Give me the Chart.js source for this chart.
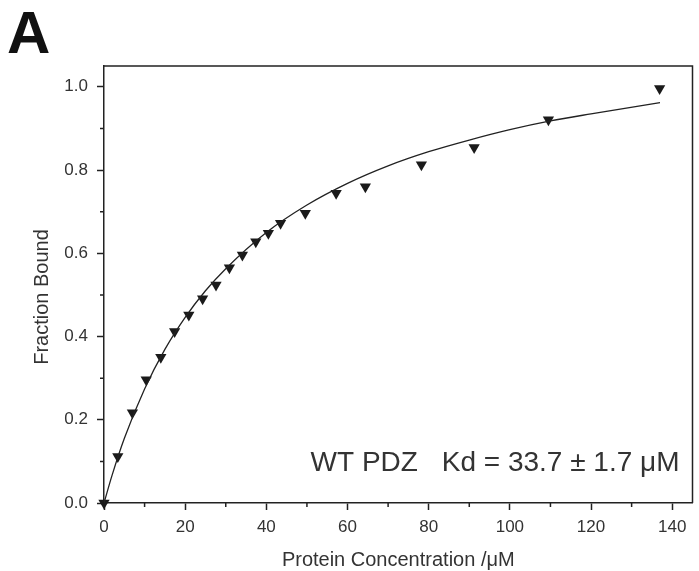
<!DOCTYPE html>
<html>
<head>
<meta charset="utf-8">
<title>WT PDZ binding</title>
<script src="https://cdn.jsdelivr.net/npm/chart.js@4/dist/chart.umd.min.js"></script>
<style>
  html, body { margin: 0; padding: 0; background: #fff; }
  #wrap { width: 699px; height: 571px; }
</style>
</head>
<body>
<div id="wrap"><canvas id="bindingChart" width="699" height="571"></canvas></div>
<script>
// measured points (protein concentration in uM, fraction bound)
var concentration = [0, 3.4, 7.0, 10.4, 14.0, 17.4, 20.9, 24.3, 27.6, 30.9, 34.1, 37.4, 40.5, 43.5, 49.6, 57.2, 64.4, 78.2, 91.2, 109.5, 136.9];
var fractionBound = [0, 0.112, 0.217, 0.296, 0.350, 0.412, 0.452, 0.491, 0.524, 0.565, 0.596, 0.628, 0.648, 0.672, 0.696, 0.744, 0.760, 0.813, 0.854, 0.921, 0.996];

// fitted curve
var fitConcentration = [0, 2, 5, 10, 15, 20, 25, 30, 40, 50, 60, 70, 80, 90, 100, 110, 120, 137];
var fitFraction = [0, 0.067, 0.155, 0.274, 0.369, 0.446, 0.510, 0.563, 0.650, 0.716, 0.768, 0.810, 0.844, 0.872, 0.897, 0.918, 0.935, 0.962];

var xTickValues = [0, 20, 40, 60, 80, 100, 120, 140];
var xMinorTicks = [10, 30, 50, 70, 90, 110, 130];
var yTickValues = [0, 0.2, 0.4, 0.6, 0.8, 1.0];
var yMinorTicks = [0.1, 0.3, 0.5, 0.7, 0.9];

var labelName = 'WT PDZ';
var labelKd = 'Kd = 33.7 \u00b1 1.7 \u03bcM';

var ink = '#222';
var textInk = '#333';
var sans = "'Liberation Sans', Arial, sans-serif";

var bindingChart = function(){

	var toPoints = function(xs, ys){
		return xs.map(function(x, i){ return {x: x, y: ys[i]}; });
	};

	// frame box, minor ticks, annotation and panel letter
	var extras = {
		id: 'extras',
		afterDraw: function(chart){
			var ctx = chart.ctx;
			var area = chart.chartArea;
			var xs = chart.scales.x;
			var ys = chart.scales.y;
			ctx.save();
			ctx.strokeStyle = ink;
			ctx.lineWidth = 1.5;
			ctx.beginPath();
			ctx.moveTo(area.left, area.top);
			ctx.lineTo(area.right, area.top);
			ctx.lineTo(area.right, area.bottom);
			ctx.stroke();

			ctx.beginPath();
			xMinorTicks.forEach(function(v){
				var px = xs.getPixelForValue(v);
				ctx.moveTo(px, area.bottom);
				ctx.lineTo(px, area.bottom + 4);
			});
			yMinorTicks.forEach(function(v){
				var py = ys.getPixelForValue(v);
				ctx.moveTo(area.left, py);
				ctx.lineTo(area.left - 4, py);
			});
			ctx.stroke();

			ctx.fillStyle = textInk;
			ctx.font = '28px ' + sans;
			ctx.textBaseline = 'alphabetic';
			ctx.textAlign = 'left';
			ctx.fillText(labelName, xs.getPixelForValue(50.9), ys.getPixelForValue(0.076));
			ctx.textAlign = 'right';
			ctx.fillText(labelKd, xs.getPixelForValue(141.8), ys.getPixelForValue(0.076));

			// y title drawn by hand, it sits a bit below the middle of the axis
			ctx.save();
			ctx.translate(42.5, 297);
			ctx.rotate(-Math.PI / 2);
			ctx.textAlign = 'center';
			ctx.textBaseline = 'middle';
			ctx.font = '20px ' + sans;
			ctx.fillText('Fraction Bound', 0, 0);
			ctx.restore();

			ctx.fillStyle = '#111';
			ctx.font = 'bold 60px ' + sans;
			ctx.textAlign = 'left';
			ctx.textBaseline = 'alphabetic';
			ctx.fillText('A', 7, 53);
			ctx.restore();
		}
	};

	var draw = function(){
		var ctx = document.getElementById('bindingChart').getContext('2d');
		new Chart(ctx, {
			type: 'scatter',
			data: {
				datasets: [{
					label: 'Fit',
					type: 'line',
					data: toPoints(fitConcentration, fitFraction),
					borderColor: ink,
					borderWidth: 1.3,
					pointRadius: 0,
					fill: false,
					cubicInterpolationMode: 'monotone'
				}, {
					label: 'WT PDZ',
					data: toPoints(concentration, fractionBound),
					pointStyle: 'triangle',
					rotation: 180,
					pointRadius: 6.5,
					backgroundColor: '#1a1a1a',
					borderColor: '#1a1a1a',
					borderWidth: 0,
					clip: false
				}]
			},
			options: {
				responsive: false,
				animation: false,
				devicePixelRatio: 1,
				layout: { padding: { top: 66, right: 3, left: 0, bottom: 0 } },
				plugins: {
					legend: { display: false },
					tooltip: { enabled: false }
				},
				scales: {
					x: {
						type: 'linear',
						min: 0,
						max: 145,
						afterFit: function(scale){ scale.height = 68; },
						afterBuildTicks: function(scale){
							scale.ticks = xTickValues.map(function(v){ return {value: v}; });
						},
						border: { display: true, color: ink, width: 1.5 },
						grid: { drawOnChartArea: false, drawTicks: true, tickLength: 7, tickColor: ink, tickWidth: 1.5 },
						ticks: {
							color: textInk,
							padding: 7,
							maxRotation: 0,
							font: { family: sans, size: 17 },
							callback: function(v){ return String(v); }
						},
						title: {
							display: true,
							text: 'Protein Concentration /\u03bcM',
							color: textInk,
							font: { family: sans, size: 20, lineHeight: 1.1 },
							padding: { top: 0, bottom: 0 }
						}
					},
					y: {
						type: 'linear',
						min: 0,
						max: 1.05,
						afterFit: function(scale){ scale.width = 104; },
						afterBuildTicks: function(scale){
							scale.ticks = yTickValues.map(function(v){ return {value: v}; });
						},
						border: { display: true, color: ink, width: 1.5 },
						grid: { drawOnChartArea: false, drawTicks: true, tickLength: 7, tickColor: ink, tickWidth: 1.5 },
						ticks: {
							color: textInk,
							padding: 9,
							font: { family: sans, size: 17 },
							callback: function(v){ return Number(v).toFixed(1); }
						},
						title: { display: false }
					}
				}
			},
			plugins: [extras]
		});
	};

	return { load: draw };
}();

bindingChart.load();
</script>
</body>
</html>
